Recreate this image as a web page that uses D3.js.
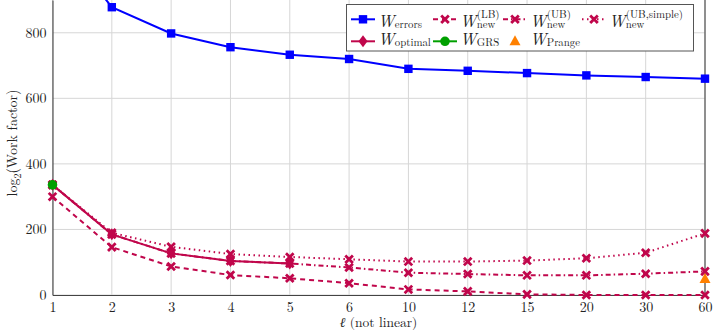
<!DOCTYPE html>
<html>
<head>
<meta charset="utf-8">
<script src="https://d3js.org/d3.v7.min.js"></script>
<style>
  body { margin: 0; background: #fff; }
</style>
</head>
<body>
<svg id="chart" width="716" height="336"></svg>
<script>
// categories along the (non linear) x axis
const ells = ['1', '2', '3', '4', '5', '6', '10', '12', '15', '20', '30', '60'];
const yTicks = [0, 200, 400, 600, 800];

// series values (null = no point)
const wErrors   = [1110, 878, 798, 756, 733, 720, 690, 684, 677, 670, 665, 660];
const wOptimal  = [336, 185, 127, 104, 96, null, null, null, null, null, null, null];
const wLB       = [300, 146, 87, 61, 51, 36, 17, 11, 2, 0, 0, 0];
const wUB       = [336, 185, 127, 104, 96, 84, 68, 64, 60, 60, 65, 72];
const wUBsimple = [336, 190, 147, 125, 116, 109, 102, 102, 105, 112, 129, 188];
const wGRS      = [336, null, null, null, null, null, null, null, null, null, null, null];
const wPrange   = [null, null, null, null, null, null, null, null, null, null, null, 49];

const FONT = '"Latin Modern Roman", "Liberation Serif", serif';
const purple = '#c0064b';
const series = [
    { name: 'errors', data: wErrors, color: '#0000ff', dash: null, mark: 'square', line: true },
    { name: 'optimal', data: wOptimal, color: purple, dash: null, mark: 'diamond', line: true },
    { name: 'UB', data: wUB, color: purple, dash: '5,3,1.5,3', mark: 'x', line: true },
    { name: 'UBsimple', data: wUBsimple, color: purple, dash: '1.5,3.5', mark: 'x', line: true },
    { name: 'LB', data: wLB, color: purple, dash: '5,4', mark: 'x', line: true },
    { name: 'GRS', data: wGRS, color: '#00a000', dash: null, mark: 'circle', line: true },
    { name: 'Prange', data: wPrange, color: '#ff8000', dash: null, mark: 'triangle', line: false }
];

const svg = d3.select('#chart');
const plotLeft = 52.5, plotRight = 705, plotTop = 0, plotBottom = 295;

const x = d3.scalePoint().domain(ells).range([plotLeft, plotRight]);
const y = d3.scaleLinear().domain([0, 900]).range([plotBottom, plotTop]);

// grid
const grid = svg.append('g').attr('class', 'grid');
grid.selectAll('line.gx').data(ells).enter().append('line')
    .attr('x1', d => x(d)).attr('x2', d => x(d))
    .attr('y1', plotTop).attr('y2', plotBottom)
    .attr('stroke', '#d6d6d6').attr('stroke-width', 1);
grid.selectAll('line.gy').data(yTicks).enter().append('line')
    .attr('x1', plotLeft).attr('x2', plotRight)
    .attr('y1', d => y(d)).attr('y2', d => y(d))
    .attr('stroke', '#d6d6d6').attr('stroke-width', 1);

// axes
const xAxis = svg.append('g')
    .attr('transform', `translate(0,${plotBottom})`)
    .call(d3.axisBottom(x).tickSize(0).tickPadding(7));
const yAxis = svg.append('g')
    .attr('transform', `translate(${plotLeft},0)`)
    .call(d3.axisLeft(y).tickValues(yTicks).tickSize(0).tickPadding(6));
[xAxis, yAxis].forEach(a => {
    a.attr('font-family', FONT).attr('font-size', 14);
    a.select('.domain').attr('stroke', '#444').attr('stroke-width', 1.1);
    a.selectAll('text').attr('fill', '#222');
});
// right border
svg.append('line').attr('x1', plotRight).attr('x2', plotRight).attr('y1', plotTop).attr('y2', plotBottom)
    .attr('stroke', '#444').attr('stroke-width', 1.1);

// clip
svg.append('clipPath').attr('id', 'clip').append('rect')
    .attr('x', plotLeft - 8).attr('y', plotTop).attr('width', plotRight - plotLeft + 16)
    .attr('height', plotBottom - plotTop + 8);

const plot = svg.append('g').attr('clip-path', 'url(#clip)');

function drawMark(g, type, cx, cy, color) {
    if (type === 'square') {
        g.append('rect').attr('x', cx - 4.2).attr('y', cy - 4.2).attr('width', 8.4).attr('height', 8.4)
            .attr('fill', color);
    } else if (type === 'diamond') {
        g.append('path').attr('d', `M${cx},${cy - 6}L${cx + 4.5},${cy}L${cx},${cy + 6}L${cx - 4.5},${cy}Z`)
            .attr('fill', color);
    } else if (type === 'x') {
        const s = 3.8;
        g.append('path').attr('d', `M${cx - s},${cy - s}L${cx + s},${cy + s}M${cx - s},${cy + s}L${cx + s},${cy - s}`)
            .attr('stroke', color).attr('stroke-width', 2.8).attr('fill', 'none');
    } else if (type === 'circle') {
        g.append('circle').attr('cx', cx).attr('cy', cy).attr('r', 4.8).attr('fill', color);
    } else if (type === 'triangle') {
        g.append('path').attr('d', `M${cx},${cy - 6}L${cx + 5.5},${cy + 4}L${cx - 5.5},${cy + 4}Z`)
            .attr('fill', color);
    }
}

const line = d3.line()
    .defined(d => d.v !== null)
    .x(d => x(d.k))
    .y(d => y(d.v));

series.forEach(s => {
    const pts = ells.map((k, i) => ({ k: k, v: s.data[i] }));
    if (s.line) {
        plot.append('path').datum(pts)
            .attr('d', line)
            .attr('fill', 'none')
            .attr('stroke', s.color)
            .attr('stroke-width', 2)
            .attr('stroke-dasharray', s.dash);
    }
    const g = plot.append('g');
    pts.filter(p => p.v !== null).forEach(p => drawMark(g, s.mark, x(p.k), y(p.v), s.color));
});

// axis labels
const xl = svg.append('text').attr('x', 378.5).attr('y', 327).attr('text-anchor', 'middle')
    .attr('font-family', FONT).attr('font-size', 13.5).attr('fill', '#222');
xl.append('tspan').attr('font-style', 'italic').text('ℓ');
xl.append('tspan').text(' (not linear)');

const yl = svg.append('text').attr('transform', 'translate(16.5,143) rotate(-90)')
    .attr('text-anchor', 'middle').attr('font-family', FONT).attr('font-size', 14).attr('fill', '#222');
yl.append('tspan').text('log');
yl.append('tspan').attr('dy', 4).attr('font-size', 10).text('2');
yl.append('tspan').attr('dy', -4).text('(Work factor)');

// legend
const legend = svg.append('g').attr('font-family', FONT).attr('fill', '#222');
legend.append('rect').attr('x', 346.5).attr('y', 4.5).attr('width', 347).attr('height', 46.5)
    .attr('fill', '#fff').attr('stroke', '#555').attr('stroke-width', 1);

const legendItems = [
    { x: 351, y: 19.3, wb: 26.6, color: '#0000ff', dash: null, mark: 'square', sub: 'errors' },
    { x: 433, y: 19.3, wb: 26.6, color: purple, dash: '5,4', mark: 'x', sub: 'new', sup: '(LB)' },
    { x: 503, y: 19.3, wb: 26.6, color: purple, dash: '5,3,1.5,3', mark: 'x', sub: 'new', sup: '(UB)' },
    { x: 582, y: 19.3, wb: 26.6, color: purple, dash: '1.5,3.5', mark: 'x', sub: 'new', sup: '(UB,simple)' },
    { x: 351, y: 41.3, wb: 44.6, color: purple, dash: null, mark: 'diamond', sub: 'optimal' },
    { x: 433, y: 41.3, wb: 44.6, color: '#00a000', dash: null, mark: 'circle', sub: 'GRS' },
    { x: 503, y: 41.3, wb: 44.6, color: '#ff8000', dash: null, mark: 'triangle', sub: 'Prange', noLine: true }
];

legendItems.forEach(it => {
    const g = legend.append('g');
    if (!it.noLine) {
        g.append('line').attr('x1', it.x).attr('x2', it.x + 24).attr('y1', it.y).attr('y2', it.y)
            .attr('stroke', it.color).attr('stroke-width', 2).attr('stroke-dasharray', it.dash);
    }
    drawMark(g, it.mark, it.x + 12, it.y, it.color);
    const tx = it.x + 27;
    const w = g.append('text').attr('x', tx).attr('y', it.wb)
        .attr('font-size', 16.5).attr('font-style', 'italic').text('W');
    const ww = w.node().getComputedTextLength();
    g.append('text').attr('x', tx + ww + 0.3).attr('y', it.wb + 1.8)
        .attr('font-size', 10.8).text(it.sub);
    if (it.sup) {
        g.append('text').attr('x', tx + ww + 0.3).attr('y', 18.3)
            .attr('font-size', 10.8).text(it.sup);
    }
});
</script>
</body>
</html>
